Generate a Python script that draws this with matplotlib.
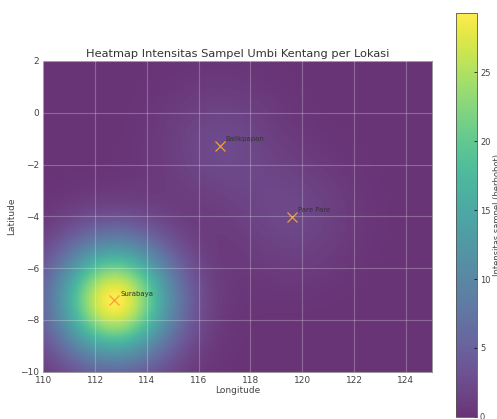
import numpy as np
import matplotlib
matplotlib.use("Agg")
from matplotlib import pyplot as plt

# lokasi sampel
kota = ["Surabaya", "Balikpapan", "Pare Pare"]
lon = [112.75, 116.83, 119.62]
lat = [-7.25, -1.27, -4.01]
bobot = [29.3, 2.3, 2.0]
sigma = 1.55

lon_min, lon_max = 110, 125
lat_min, lat_max = -10, 2

gx, gy = np.meshgrid(np.linspace(lon_min, lon_max, 400), np.linspace(lat_min, lat_max, 320))
Z = np.zeros_like(gx)
for x0, y0, w in zip(lon, lat, bobot):
    Z += w * np.exp(-((gx - x0) ** 2 + (gy - y0) ** 2) / (2 * sigma ** 2))

fig = plt.figure(figsize=(4.97, 4.19), dpi=100)
ax = fig.add_axes([0.0871, 0.1126, 0.7815, 0.7424])
cax = fig.add_axes([0.9175, 0.005, 0.0425, 0.964])

txt = "#333333"
im = ax.imshow(Z, extent=[lon_min, lon_max, lat_min, lat_max], origin="lower",
               cmap="viridis", alpha=0.8, aspect="equal", interpolation="bilinear")
ax.plot(lon, lat, "x", color="#f5a030", ms=7, mew=0.9)
for k, x0, y0 in zip(kota, lon, lat):
    ax.annotate(k, (x0, y0), xytext=(4, 3), textcoords="offset points",
                fontsize=5, color=txt)

ax.set_xlim(lon_min, lon_max)
ax.set_ylim(lat_min, lat_max)
ax.set_xticks(np.arange(110, 125, 2))
ax.set_yticks(np.arange(-10, 3, 2))
ax.grid(True, color="white", alpha=0.25, lw=0.8)
ax.set_axisbelow(False)
ax.tick_params(length=0, pad=3, labelsize=6.5, labelcolor="#444444")
for s in ax.spines.values():
    s.set_color("#888888")
    s.set_linewidth(0.6)
ax.set_title("Heatmap Intensitas Sampel Umbi Kentang per Lokasi", fontsize=8.2, color=txt, pad=3)
ax.set_xlabel("Longitude", fontsize=6.5, color="#444444", labelpad=1)
ax.set_ylabel("Latitude", fontsize=6.5, color="#444444", labelpad=3)

cb = fig.colorbar(im, cax=cax)
cb.set_ticks([0, 5, 10, 15, 20, 25])
cb.ax.tick_params(direction="in", length=2, width=0.5, labelsize=6, labelcolor="#444444", pad=2)
cb.outline.set_linewidth(0.6)
cb.outline.set_edgecolor("#555555")
cb.set_label("Intensitas sampel (berbobot)", fontsize=6, color="#444444", labelpad=2)

fig.savefig("out.png", dpi=100)
